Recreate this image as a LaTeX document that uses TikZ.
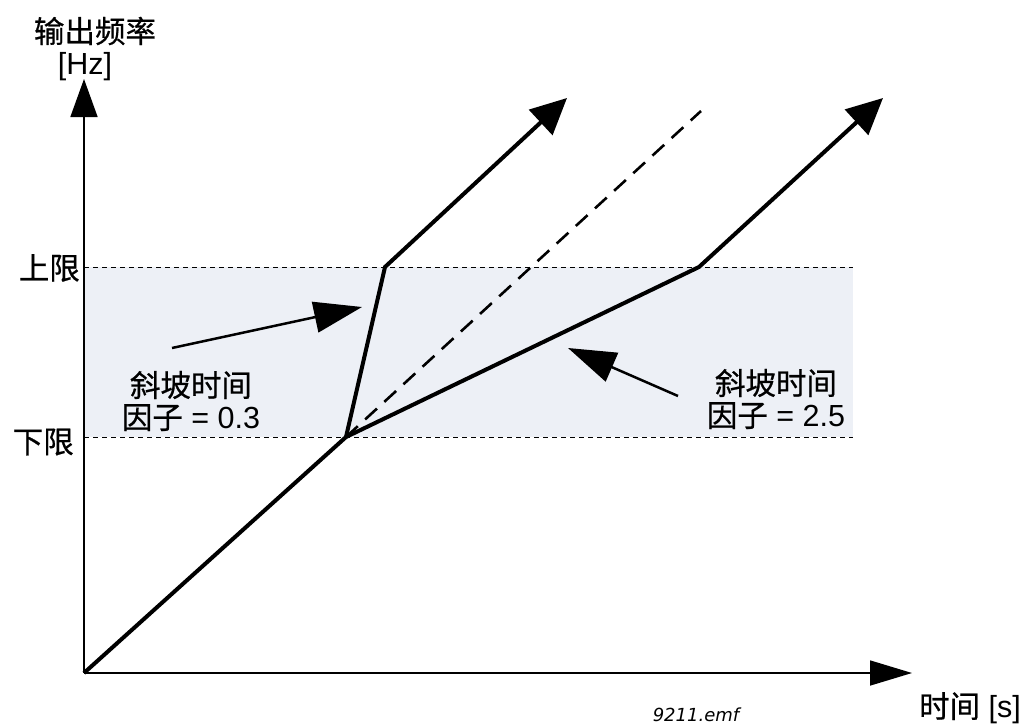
\documentclass[tikz,border=0pt]{standalone}
\usepackage{fontspec}
\setmainfont{Liberation Sans}
\newfontfamily\cjk[FakeBold=0.6]{Noto Sans CJK SC}
\newfontfamily\emffont{DejaVu Sans}
\usetikzlibrary{arrows.meta}
\definecolor{bandfill}{RGB}{237,240,246}
\begin{document}
\begin{tikzpicture}[x=1pt,y=-1pt,
  yaxis/.style={line width=1.6pt,-{Triangle[length=38pt,width=27pt]}},
  xaxis/.style={line width=1.6pt,-{Triangle[length=42pt,width=25pt]}},
  curve/.style={line width=4pt,line join=miter,-{Triangle[length=36pt,width=34pt]}},
  hline/.style={line width=1pt,dash pattern=on 5pt off 4pt},
  guide/.style={line width=2.6pt,dash pattern=on 16pt off 10pt},
  pointer/.style={line width=2.5pt,-{Triangle[length=48pt,width=31pt]}},
  lbl/.style={font=\fontsize{30.5}{34}\selectfont, align=center, inner sep=0pt},
]
\useasboundingbox (0,0) rectangle (1023,726);
% points
\coordinate (O) at (84,673);
\coordinate (Ytip) at (84,79);
\coordinate (Xtip) at (912,673);
\coordinate (L) at (346,437);
\coordinate (A) at (385,267);
\coordinate (Atip) at (567,98);
\coordinate (B) at (699,267);
\coordinate (Btip) at (883,98);
\coordinate (D) at (701,111);
\coordinate (UL) at (84,267);
\coordinate (UR) at (853,267);
\coordinate (LL) at (84,437);
\coordinate (LR) at (853,437);
\coordinate (P1s) at (172,348);
\coordinate (P1e) at (362,307);
\coordinate (P2s) at (678,396);
\coordinate (P2e) at (568,348);
% band
\fill[bandfill] (UL) rectangle (LR);
\draw[hline] (UL) -- (UR);
\draw[hline] (LL) -- (LR);
% axes
\draw[yaxis] (O) -- (Ytip);
\draw[xaxis] (O) -- (Xtip);
% curves
\draw[guide] (L) -- (D);
\draw[line width=4pt] (O) -- (L);
\draw[curve] (L) -- (A) -- (Atip);
\draw[curve] (L) -- (B) -- (Btip);
% pointers
\draw[pointer] (P1s) -- (P1e);
\draw[pointer] (P2s) -- (P2e);
% labels
\node[lbl] (ylab) at (95,31) {\cjk 输出频率};
\node[lbl] (yunit) at (85,67) {[Hz]};
\node[lbl,anchor=east] (up) at (80,268) {\cjk 上限};
\node[lbl,anchor=east] (lo) at (74,442) {\cjk 下限};
\node[lbl] (f1) at (191,401) {{\cjk 斜坡时间}\\[-2pt]{\cjk 因子} = 0.3};
\node[lbl] (f2) at (776,399) {{\cjk 斜坡时间}\\[-2pt]{\cjk 因子} = 2.5};
\node[lbl,anchor=east] (xlab) at (1021,708) {{\cjk 时间} [s]};
\node[font=\emffont\itshape\fontsize{18}{21}\selectfont, inner sep=0pt] (emf) at (696,715) {9211.emf};
\end{tikzpicture}
\end{document}
